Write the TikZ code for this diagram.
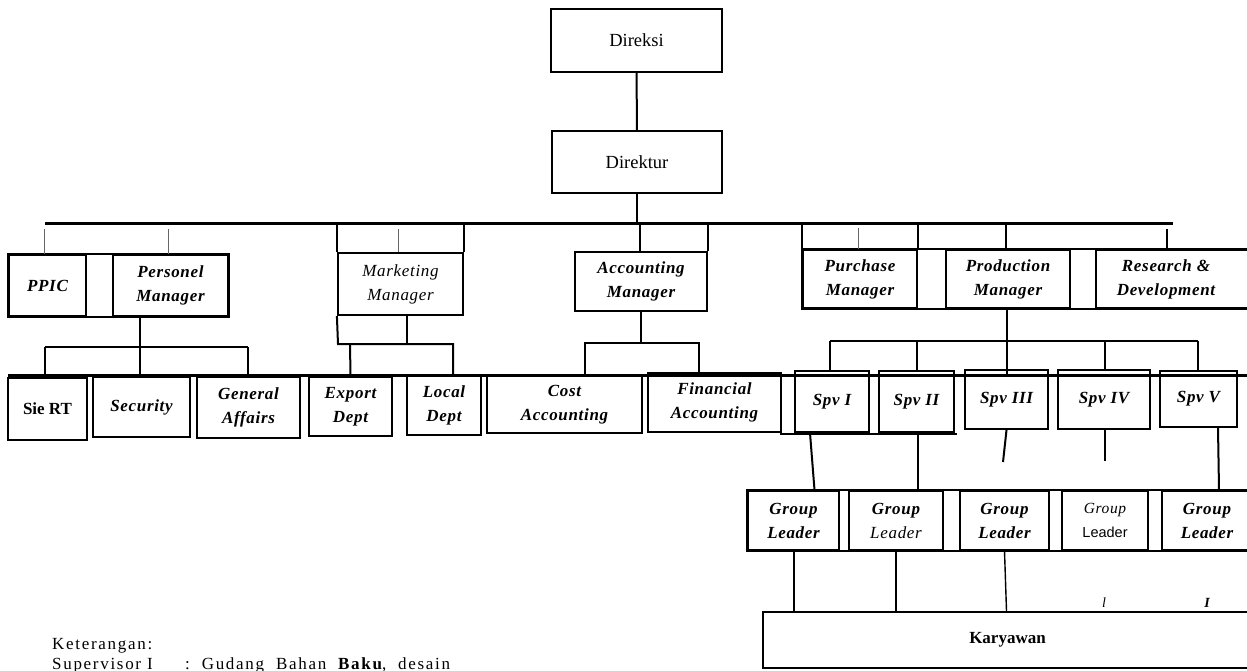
\documentclass[tikz,border=0pt]{standalone}
\usepackage{fontspec}
\setmainfont{Liberation Serif}
\newfontfamily\lsfont[LetterSpace=4]{Liberation Serif}
\newfontfamily\ketfont[LetterSpace=10]{Liberation Serif}
\newfontfamily\sansfnt{Liberation Sans}
\newcommand\mybox[7]{\node[#6, minimum width={(#4-#2)*1pt}, minimum height={(#5-#3)*1pt}] (#1) at ({(#2+#4)/2},{(#3+#5)/2}) {#7};}
\begin{document}
\begin{tikzpicture}[x=1pt,y=-1pt,
  bx/.style={draw,line width=2.2pt,inner sep=0pt,align=center,font={\lsfont\bfseries\itshape\fontsize{17}{24}\selectfont}},
  bxit/.style={bx,font={\lsfont\itshape\fontsize{17}{24}\selectfont}},
  bxup/.style={bx,font={\fontsize{18.5}{20}\selectfont}},
  bxupb/.style={bx,font={\bfseries\fontsize{17}{20}\selectfont}},
  lbl/.style={inner sep=0pt,align=center,font={\lsfont\bfseries\itshape\fontsize{17}{24}\selectfont}},
  ket/.style={anchor=base west,inner sep=0pt,font={\ketfont\fontsize{17}{17}\selectfont}},
  frame/.style={line width=2.2pt},
  conn/.style={line width=2pt},
  mainline/.style={line width=3pt},
  tick/.style={line width=0.9pt,black!60},
  tickb/.style={line width=1.4pt}]
\useasboundingbox (0,0) rectangle (1247,671);
\clip (0,0) rectangle (1247,671);
% top
\mybox{direksi}{551}{9}{722}{72}{bxup}{Direksi}
\mybox{direktur}{552}{131}{722}{193}{bxup}{Direktur}
\draw[conn] (direksi) -- (direktur);
\coordinate (mainL) at (45,223);
\coordinate (mainR) at (1173,223);
\draw[mainline] (mainL) -- (mainR);
\draw[tickb] (direktur.south) -- (direktur.south |- mainL);
% PPIC / Personel
\mybox{ppic}{9}{255}{86}{316}{bx}{PPIC}
\mybox{personel}{113}{255}{228}{316}{bx}{Personel\\Manager}
\draw[frame] (ppic.north west) rectangle (personel.south east);
\coordinate (t1) at (44,229);
\draw[tick] (t1) -- (ppic.north -| t1);
\coordinate (t2) at (168,229);
\draw[tick] (t2) -- (personel.north -| t2);
\coordinate (pb) at (140,347);
\coordinate (pbL) at (45,347);
\coordinate (pbR) at (248,347);
\draw[conn] (personel.south -| pb) -- (pb);
\draw[conn] (pbL) -- (pbR);
% row line
\coordinate (rowL) at (8,375);
\coordinate (rowR) at (1250,375);
\draw[mainline] (rowL) -- (rowR);
\mybox{siert}{8}{378}{87}{440}{bxupb}{Sie RT}
\mybox{security}{93}{377}{190}{437}{bx}{Security}
\mybox{general}{197}{377}{300}{438}{bx}{General\\Affairs}
\mybox{export}{309}{377}{392}{436}{bx}{Export\\Dept}
\mybox{local}{407}{376}{481}{435}{bx}{Local\\Dept}
\mybox{cost}{487}{376}{642}{433}{bx}{Cost\\Accounting}
\mybox{fin}{648}{373}{781}{432}{bx}{Financial\\Accounting}
\draw[conn] (pbL) -- (siert.north -| pbL);
\draw[conn] (pb) -- (security.north -| pb);
\draw[conn] (pbR) -- (general.north -| pbR);
% Marketing
\mybox{marketing}{338}{253}{463}{315}{bxit}{Marketing\\Manager}
\draw[conn] (marketing.north west) -- (marketing.north west |- mainL);
\draw[conn] (marketing.north east) -- (marketing.north east |- mainL);
\coordinate (t3) at (398,229);
\draw[tick] (t3) -- (marketing.north -| t3);
\coordinate (mb) at (338,344);
\coordinate (mbR) at (453,344);
\coordinate (mc) at (407,344);
\coordinate (me) at (350,344);
\draw[conn] (marketing.south west) -- (mb) -- (mbR) -- (local.north -| mbR);
\draw[conn] (marketing.south -| mc) -- (mc);
\draw[conn] (me) -- (export.north);
% Accounting
\mybox{accm}{575}{252}{707}{311}{bx}{Accounting\\Manager}
\coordinate (a1) at (640,223);
\draw[conn] (a1) -- (accm.north -| a1);
\draw[conn] (accm.north east) -- (accm.north east |- mainL);
\coordinate (ab) at (641,343);
\coordinate (abL) at (585,343);
\coordinate (abR) at (699,343);
\draw[conn] (accm.south -| ab) -- (ab);
\draw[conn] (cost.north -| abL) -- (abL) -- (abR) -- (fin.north -| abR);
% Right managers
\mybox{purch}{803}{250}{917}{308}{bx}{Purchase\\Manager}
\mybox{prod}{946}{250}{1070}{308}{bx}{Production\\Manager}
\mybox{rd}{1096}{250}{1252}{308}{bx}{}
\node[lbl] (rdtext) at (1166,279) {Research \&\\Development};
\draw[frame] (rd.north east) -- (purch.north west) -- (purch.south west) -- (rd.south east);
\draw[conn] (purch.north west) -- (purch.north west |- mainL);
\draw[conn] (purch.north east) -- (purch.north east |- mainL);
\coordinate (t4) at (858,228);
\draw[tick] (t4) -- (purch.north -| t4);
\coordinate (t5) at (1006,223);
\draw[tickb] (t5) -- (prod.north -| t5);
\coordinate (t6) at (1167,229);
\draw[tickb] (t6) -- (rd.north -| t6);
% Supervisors
\mybox{spv1}{795}{371}{869}{432}{bx}{Spv I}
\mybox{spv2}{879}{371}{954}{432}{bx}{Spv II}
\mybox{spv3}{965}{370}{1048}{429}{bx}{Spv III}
\mybox{spv4}{1058}{370}{1150}{429}{bx}{Spv IV}
\mybox{spv5}{1160}{371}{1237}{427}{bx}{Spv V}
\coordinate (sl) at (780,434);
\coordinate (slR) at (957,434);
\draw[frame] (sl) -- (slR);
\coordinate (pr) at (1007,375);
\draw[conn] (prod.south -| pr) -- (pr);
\coordinate (sb1) at (830,341);
\coordinate (sb2) at (917,341);
\coordinate (sb4) at (1105,341);
\coordinate (sb5) at (1198,341);
\draw[conn] (sb1) -- (sb5);
\draw[conn] (sb1) -- (spv1.north -| sb1);
\draw[conn] (sb2) -- (spv2.north -| sb2);
\draw[conn] (sb4) -- (spv4.north -| sb4);
\draw[conn] (sb5) -- (spv5.north -| sb5);
% Group leaders
\mybox{gl1}{748}{491}{839}{550}{bx}{Group\\Leader}
\mybox{gl2}{849}{491}{943}{550}{bx}{Group\\{\mdseries Leader}}
\mybox{gl3}{960}{491}{1049}{550}{bx}{Group\\Leader}
\mybox{gl4}{1062}{491}{1148}{550}{bx}{{\mdseries\fontsize{15.5}{24}\selectfont Group}\\{\sansfnt\mdseries\upshape\fontsize{14.5}{20}\selectfont Leader}}
\mybox{gl5}{1162}{491}{1252}{550}{bx}{Group\\Leader}
\draw[frame] (gl5.north east) -- (gl1.north west) -- (gl1.south west) -- (gl5.south east);
\draw[conn] ([xshift=-22pt]spv1.south) -- ([xshift=21pt]gl1.north);
\draw[conn] ([xshift=1.5pt]spv2.south) -- ([xshift=22pt]gl2.north);
\coordinate (d3) at (1003,462);
\coordinate (d4) at (1105,461);
\draw[conn] (spv3.south) -- (d3);
\draw[conn] (spv4.south -| d4) -- (d4);
\draw[conn] ([xshift=19.5pt]spv5.south) -- ([xshift=12pt]gl5.north);
% Karyawan
\mybox{kary}{763}{612}{1252}{668}{bxupb}{Karyawan}
\draw[conn] (gl1.south) -- (gl1.south |- kary.north);
\draw[conn] (gl2.south) -- (gl2.south |- kary.north);
\draw[line width=1.4pt] (gl3.south) -- ([xshift=-1pt]kary.north);
\node[inner sep=0pt,font={\itshape\fontsize{14}{14}\selectfont}] (m1) at (1104,603) {l};
\node[inner sep=0pt,font={\bfseries\itshape\fontsize{14}{14}\selectfont}] (m2) at (1207,603) {I};
% Keterangan
\node[ket] (ket1) at (52,649) {Keterangan:};
\node[ket] (sup1) at (52,669) {Supervisor I};
\node[ket] (sup2) at (185,669) {:\ \ Gudang\ \ Bahan\ \ {\bfseries Baku},\ \ desain};
\end{tikzpicture}
\end{document}
